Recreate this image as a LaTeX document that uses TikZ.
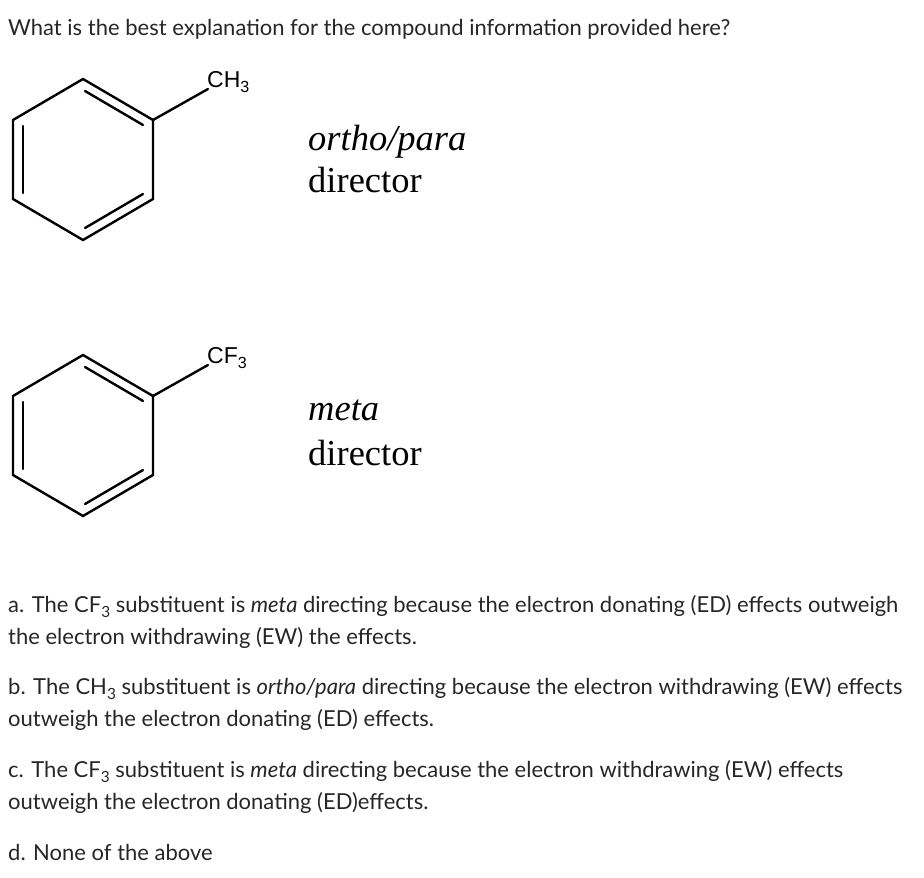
\documentclass[tikz,border=0pt]{standalone}
\usepackage{fontspec}
\setmainfont{Lato}
\newfontfamily\serifrm{Liberation Serif}
\newfontfamily\arialf{Liberation Sans}
\newcommand{\lsub}[1]{\raisebox{-0.25em}{\fontsize{0.7em}{1em}\selectfont #1}}
\begin{document}
\begin{tikzpicture}[x=1pt,y=-1pt,
  bond/.style={line width=2.4pt,line cap=round},
  txt/.style={anchor=base west,inner sep=0pt,font=\fontsize{22}{26}\selectfont,text=black!85},
  chem/.style={anchor=base west,inner sep=0pt,font=\fontsize{36.5}{40}\selectfont\serifrm},
  sub/.style={anchor=base west,inner sep=0pt,font=\fontsize{23}{26}\selectfont\arialf}]
\useasboundingbox (0,0) rectangle (924,878);
\node[txt] (q) at (8,35) {What is the best explanation for the compound information provided here?};
\foreach \dy/\lab/\nm in {0/CH/a,276/CF/b}{
  \begin{scope}[yshift=-\dy]
  \coordinate (\nm1) at (83,79); \coordinate (\nm2) at (153,120);
  \coordinate (\nm3) at (153,199); \coordinate (\nm4) at (83,240);
  \coordinate (\nm5) at (13,199); \coordinate (\nm6) at (13,120);
  \coordinate (\nm s) at (208,89);
  \draw[bond] (\nm1)--(\nm2)--(\nm3)--(\nm4)--(\nm5)--(\nm6)--cycle;
  \draw[bond] (\nm2)--(\nm s);
  \draw[bond] (85,91)--(143,125);
  \draw[bond] (143,194)--(85,228);
  \draw[bond] (23,126)--(23,193);
  \node[sub] (\nm t) at (207,87) {\lab\lsub{3}};
  \end{scope}}
\node[chem] (op) at (308,150) {\itshape ortho/para};
\node[chem] (d1) at (308,192) {director};
\node[chem] (m) at (308,420) {\itshape meta};
\node[chem] (d2) at (308,465) {director};
\node[txt] (a1) at (8,612) {a. The CF\lsub{3} substituent is \textit{meta} directing because the electron donating (ED) effects outweigh};
\node[txt] (a2) at (8,644) {the electron withdrawing (EW) the effects.};
\node[txt] (b1) at (8,694) {b. The CH\lsub{3} substituent is \textit{ortho/para} directing because the electron withdrawing (EW) effects};
\node[txt] (b2) at (8,726) {outweigh the electron donating (ED) effects.};
\node[txt] (c1) at (8,777) {c. The CF\lsub{3} substituent is \textit{meta} directing because the electron withdrawing (EW) effects};
\node[txt] (c2) at (8,809) {outweigh the electron donating (ED)effects.};
\node[txt] (d) at (8,860) {d. None of the above};
\end{tikzpicture}
\end{document}
